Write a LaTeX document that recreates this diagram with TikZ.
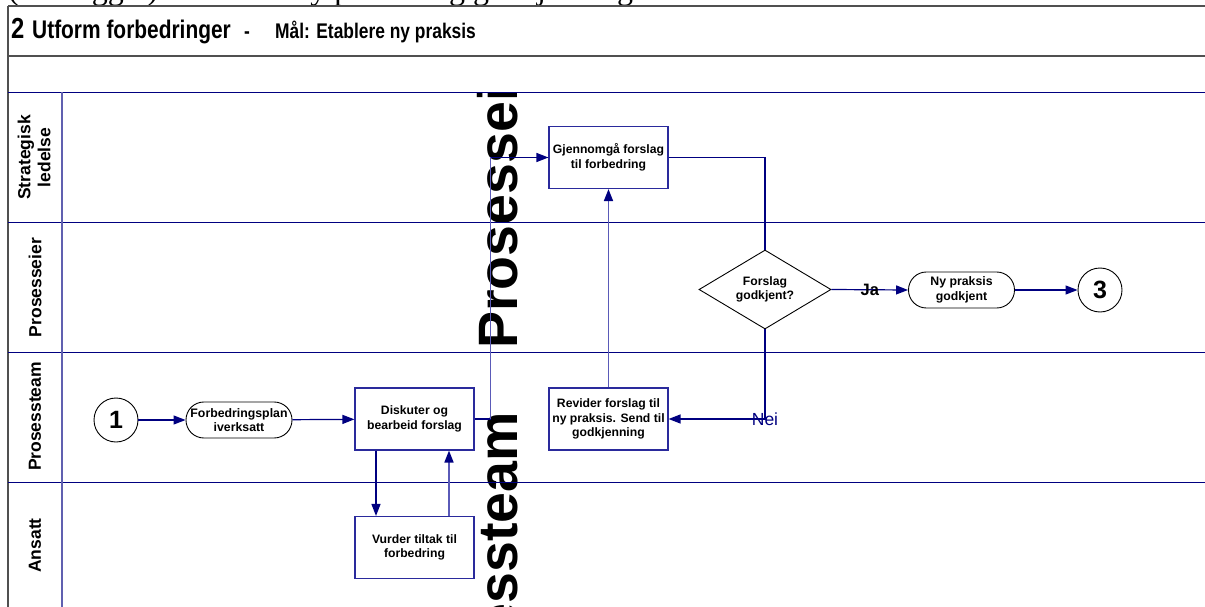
\documentclass[tikz,border=0pt]{standalone}
\usepackage{fontspec}
\setmainfont{Liberation Sans}
\newfontfamily\docserif{Liberation Serif}
\newfontfamily\narrowsans[FakeStretch=0.82]{Liberation Sans}
\usetikzlibrary{arrows.meta,shapes.geometric}

\definecolor{navy}{HTML}{000080}
\definecolor{boxblue}{HTML}{2A2A9C}
\definecolor{lightlink}{HTML}{5A5AB8}
\definecolor{framegray}{HTML}{505050}
\definecolor{headline}{HTML}{6060B0}

\tikzset{
  proc/.style={draw=boxblue, line width=1.1pt, fill=white, minimum width=119pt,
    minimum height=62pt, align=center, inner sep=2pt,
    font=\bfseries\fontsize{12.2}{14.5}\selectfont},
  term/.style={draw=black, line width=0.9pt, fill=white, rounded corners=17.9pt,
    minimum width=106pt, minimum height=36pt, align=center, inner sep=1pt,
    font=\bfseries\fontsize{12.3}{14.5}\selectfont},
  offpage/.style={draw=black, line width=0.9pt, fill=white, circle,
    minimum size=44pt, inner sep=0pt, font=\bfseries\fontsize{25}{25}\selectfont},
  decision/.style={draw=black, line width=0.9pt, fill=white, diamond, aspect=1.67,
    minimum width=132pt, minimum height=79pt, align=center, inner sep=1pt,
    font=\bfseries\fontsize{12.2}{14.5}\selectfont},
  line/.style={draw=navy, line width=1.2pt},
  lightline/.style={draw=lightlink, line width=1.6pt},
  link/.style={line, -{Triangle[length=12pt,width=9pt]}},
  lightarrow/.style={lightline, -{Triangle[length=12pt,width=9pt,fill=navy,color=navy]}},
  lanelabel/.style={rotate=90, align=center,
    font=\bfseries\fontsize{17.5}{20}\selectfont},
  lanerule/.style={draw=navy, line width=1.4pt},
  framerule/.style={draw=framegray, line width=2pt},
  bigtext/.style={rotate=90, inner sep=0pt,
    font=\bfseries\fontsize{55.5}{58}\selectfont}
}

\begin{document}
\begin{tikzpicture}[x=1pt,y=-1pt]
\useasboundingbox (0,0) rectangle (1205,607);
\clip (0,0) rectangle (1205,607);

% line of body text above the chart, mostly cut off
\node[anchor=base west, inner sep=0pt, font=\docserif\fontsize{32}{32}\selectfont]
  (bodyline) at (8,-0.5) {(Vedlegg 2) Skisse av ny praksis og godkjenning};

% oversized lane titles lying across the middle of the chart
\begin{scope}
  \clip (62,92.5) rectangle (1205,607);
  \node[bigtext, anchor=base west] (bigA) at (517,349) {Prosesseier};
  \node[bigtext, anchor=base east] (bigB) at (517,412) {Prosessteam};
\end{scope}

% outer frame and title band
\draw[framerule] (8,6) -- (1205,6);
\draw[framerule] (8,56) -- (1205,56);
\draw[framerule] (8,6) -- (8,607);

\node[anchor=base west, inner sep=0pt, font=\narrowsans\bfseries\fontsize{29}{29}\selectfont]
  (tnum) at (11,38.5) {2};
\node[anchor=base west, inner sep=0pt, font=\narrowsans\bfseries\fontsize{25.5}{25.5}\selectfont]
  (tname) at (32,38.5) {Utform forbedringer};
\node[anchor=base west, inner sep=0pt, font=\narrowsans\bfseries\fontsize{21.2}{21.2}\selectfont]
  (tdash) at (244,38.5) {-};
\node[anchor=base west, inner sep=0pt, font=\narrowsans\bfseries\fontsize{21.2}{21.2}\selectfont]
  (tgoal) at (275,38.5) {Mål: Etablere ny praksis};

% swimlanes
\foreach \yy in {92.5,222.5,352.5,482.5}
  \draw[lanerule] (8,\yy) -- (1205,\yy);
\draw[draw=headline, line width=1.4pt] (62,92.5) -- (62,607);

\node[lanelabel] (lane1) at (34,157.5) {Strategisk\\ledelse};
\node[lanelabel] (lane2) at (35,287.5) {Prosesseier};
\node[lanelabel] (lane3) at (35,416.5) {Prosessteam};
\node[lanelabel] (lane4) at (35,545.5) {Ansatt};

% process steps
\node[offpage] (c1) at (116,420) {1};
\node[term] (plan) at (239,420) {Forbedringsplan\\iverksatt};
\node[proc] (disk) at (414.5,419) {Diskuter og\\bearbeid forslag};
\node[proc] (vurd) at (414.5,547.5) {Vurder tiltak til\\forbedring};
\node[proc] (gjen) at (608.5,157.5) {Gjennomgå forslag\\til forbedring};
\node[proc] (rev) at (608.5,419) {Revider forslag til\\ny praksis. Send til\\godkjenning};
\node[decision] (dec) at (765,289.5) {Forslag\\godkjent?};
\node[term] (ny) at (961.5,290) {Ny praksis\\godkjent};
\node[offpage] (c3) at (1100,290) {3};

% flow
\draw[link] (c1) -- (plan);
\draw[link] (plan) -- (disk);
\draw[link] ([xshift=-38.5pt]disk.south) -- ([xshift=-38.5pt]vurd.north);
\draw[lightarrow] ([xshift=34.5pt]vurd.north) -- ([xshift=34.5pt]disk.south);
\draw[line] (disk.east) -- ++(16,0) coordinate (up1);
\draw[lightline] (up1) -- (up1 |- gjen.west) coordinate (up2);
\draw[link] (up2) -- (gjen.west);
\draw[lightarrow] (rev) -- (gjen);
\draw[line] (gjen.east) -| (dec.north);
\draw[link] (dec.east) -- (ny.west)
  node[pos=0.5, font=\bfseries\fontsize{16.5}{16.5}\selectfont] {Ja};
\draw[link] (ny) -- (c3);
\draw[link] (dec.south) |- (rev.east)
  node[pos=0.5, text=navy, font=\fontsize{17.5}{17.5}\selectfont] {Nei};
\end{tikzpicture}
\end{document}
